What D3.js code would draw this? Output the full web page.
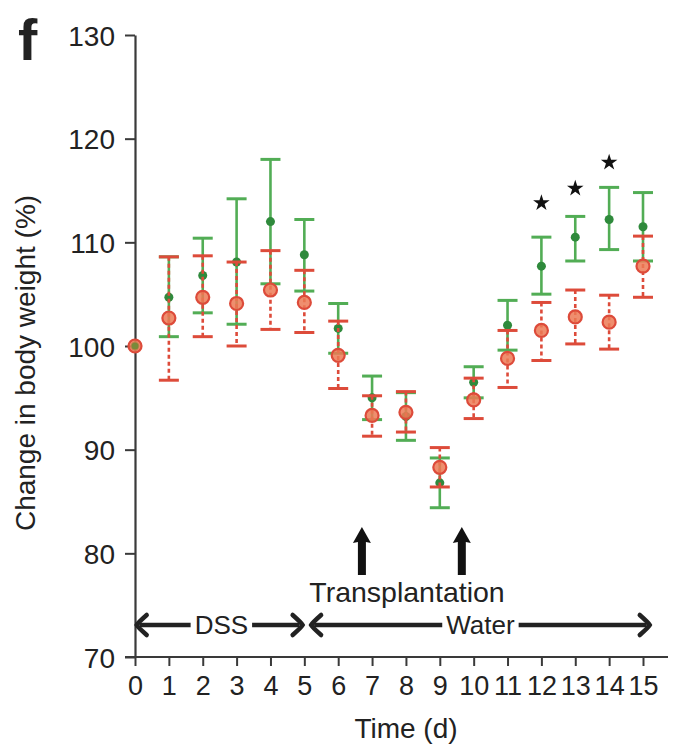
<!DOCTYPE html>
<html>
<head>
<meta charset="utf-8">
<script src="https://cdn.jsdelivr.net/npm/d3@7/dist/d3.min.js"></script>
<style>
  html, body { margin: 0; padding: 0; background: #fff; }
  svg { display: block; }
  text { font-family: "Liberation Sans", Arial, Helvetica, sans-serif; fill: #222; }
</style>
</head>
<body>
<svg id="chart" width="673" height="751"></svg>
<script>
// ---- data ----
const days = [0,1,2,3,4,5,6,7,8,9,10,11,12,13,14,15];
const xTicks = [0,1,2,3,4,5,6,7,8,9,10,11,12,13,14,15];
const yTicks = [70,80,90,100,110,120,130];

const greenMean  = [100,104.7,106.8,108.1,112.0,108.8,101.7,95.0,93.2,86.8,96.5,102.0,107.7,110.5,112.2,111.5];
const greenUpper = [null,108.6,110.4,114.2,118.0,112.2,104.1,97.1,95.5,89.2,98.0,104.4,110.5,112.5,115.3,114.8];
const greenLower = [null,100.9,103.2,102.1,106.0,105.3,99.3,92.9,90.9,84.4,95.0,99.6,105.0,108.2,109.3,108.2];

const redMean  = [100,102.7,104.7,104.1,105.4,104.2,99.1,93.3,93.6,88.3,94.8,98.8,101.5,102.8,102.3,107.7];
const redUpper = [null,108.6,108.7,108.1,109.2,107.3,102.4,95.2,95.6,90.2,96.9,101.5,104.2,105.4,104.9,110.6];
const redLower = [null,96.7,100.9,100.0,101.6,101.3,95.9,91.3,91.7,86.4,93.0,96.0,98.6,100.2,99.7,104.7];

const starDays = [12,13,14];
const starValues = [113.8,115.2,117.7];

const arrowDays = [6.7,9.65];
const periods = [
  {label:"DSS", start:0.05, end:4.95, textAt:2.55},
  {label:"Water", start:5.2, end:15.2, textAt:10.2}
];

// ---- layout ----
const svg = d3.select("#chart");
const x = d3.scaleLinear().domain([0,15]).range([135,643]);
const y = d3.scaleLinear().domain([70,130]).range([657,35]);

const axisColor = "#3a3a3a";
const green = "#52ad55", greenDark = "#2f8a3c";
const red = "#dd4b3a", redFill = "#ec7a55";

// y axis
const yAxis = svg.append("g").attr("transform","translate(135,0)")
  .call(d3.axisLeft(y).tickValues(yTicks).tickSize(10).tickPadding(10).tickSizeOuter(0));
yAxis.select(".domain").attr("stroke",axisColor).attr("stroke-width",2.2);
yAxis.selectAll(".tick line").attr("stroke",axisColor).attr("stroke-width",2);
yAxis.selectAll(".tick text").style("font-size","28px").style("font-family","Liberation Sans, Arial, sans-serif").attr("fill","#222").attr("dy","0.36em");

// x axis
const xAxis = svg.append("g").attr("transform","translate(0,657)")
  .call(d3.axisBottom(x).tickValues(xTicks).tickSize(9).tickPadding(10).tickSizeOuter(0));
xAxis.select(".domain").attr("d","M125,0H668").attr("stroke",axisColor).attr("stroke-width",2.2);
xAxis.selectAll(".tick line").attr("stroke",axisColor).attr("stroke-width",2);
xAxis.selectAll(".tick text").style("font-size","27px").style("font-family","Liberation Sans, Arial, sans-serif").attr("fill","#222");

// axis titles
svg.append("text").attr("transform","translate(35,363) rotate(-90)")
  .attr("text-anchor","middle").style("font-size","28px").text("Change in body weight (%)");
svg.append("text").attr("x",406).attr("y",738)
  .attr("text-anchor","middle").style("font-size","28px").text("Time (d)");

// panel letter
svg.append("text").attr("x",18).attr("y",60)
  .style("font-size","58px").style("font-weight","bold").attr("fill","#111").text("f");

// ---- error bars ----
const capW = 10;
function drawSeries(mean, up, lo, color, dashed, cls) {
  const g = svg.append("g").attr("class",cls);
  const idx = days.map((d,i)=>i).filter(i=>up[i]!==null);
  g.selectAll("line.v").data(idx).join("line").attr("class","v")
    .attr("x1",i=>x(days[i])).attr("x2",i=>x(days[i]))
    .attr("y1",i=>y(up[i])).attr("y2",i=>y(lo[i]))
    .attr("stroke",color).attr("stroke-width",2.6)
    .attr("stroke-dasharray",dashed?"4,3":null);
  g.selectAll("line.cu").data(idx).join("line").attr("class","cu")
    .attr("x1",i=>x(days[i])-capW).attr("x2",i=>x(days[i])+capW)
    .attr("y1",i=>y(up[i])).attr("y2",i=>y(up[i]))
    .attr("stroke",color).attr("stroke-width",3);
  g.selectAll("line.cl").data(idx).join("line").attr("class","cl")
    .attr("x1",i=>x(days[i])-capW).attr("x2",i=>x(days[i])+capW)
    .attr("y1",i=>y(lo[i])).attr("y2",i=>y(lo[i]))
    .attr("stroke",color).attr("stroke-width",3);
  return g;
}
const gG = drawSeries(greenMean, greenUpper, greenLower, green, false, "green");
gG.selectAll("circle").data(days).join("circle")
  .attr("cx",(d)=>x(d)).attr("cy",(d,i)=>y(greenMean[i])).attr("r",4.5)
  .attr("fill",greenDark);

const gR = drawSeries(redMean, redUpper, redLower, red, true, "red");
gR.selectAll("circle").data(days).join("circle")
  .attr("cx",(d)=>x(d)).attr("cy",(d,i)=>y(redMean[i])).attr("r",6.5)
  .attr("fill",redFill).attr("stroke",red).attr("stroke-width",2.2)
  .attr("fill-opacity",0.85);
// day 0 marker mixes both colours
svg.append("circle").attr("cx",x(0)).attr("cy",y(greenMean[0])).attr("r",3.5).attr("fill","#7a8a3a");

// stars
svg.selectAll("path.star").data(starDays).join("path").attr("class","star")
  .attr("transform",(d,i)=>`translate(${x(d)},${y(starValues[i])})`)
  .attr("d",d3.symbol().type(d3.symbolStar).size(85))
  .attr("fill","#111");

// upward arrows
const arrowTop = 527, arrowBot = 575;
svg.selectAll("path.up").data(arrowDays).join("path").attr("class","up")
  .attr("d",d=>{
    const cx = x(d);
    return `M${cx},${arrowTop} L${cx+9},${arrowTop+16} L${cx+4},${arrowTop+15} L${cx+4},${arrowBot} L${cx-4},${arrowBot} L${cx-4},${arrowTop+15} L${cx-9},${arrowTop+16} Z`;
  }).attr("fill","#111");

svg.append("text").attr("x",407).attr("y",602).attr("text-anchor","middle")
  .style("font-size","28.5px").text("Transplantation");

// period arrows
const py = 625;
periods.forEach(p=>{
  const x1 = x(p.start), x2 = x(p.end), xt = x(p.textAt);
  const t = svg.append("text").attr("x",xt).attr("y",py+9).attr("text-anchor","middle")
    .style("font-size","26px").text(p.label);
  const w = t.node().getComputedTextLength();
  const gap = 4;
  svg.append("line").attr("x1",x1+3).attr("x2",xt-w/2-gap).attr("y1",py).attr("y2",py)
    .attr("stroke","#222").attr("stroke-width",4.5);
  svg.append("line").attr("x1",xt+w/2+gap).attr("x2",x2-3).attr("y1",py).attr("y2",py)
    .attr("stroke","#222").attr("stroke-width",4.5);
  // curved heads
  svg.append("path").attr("d",`M${x1+10},${py-10} Q${x1+1},${py-2} ${x1},${py} Q${x1+1},${py+2} ${x1+10},${py+10}`)
    .attr("fill","none").attr("stroke","#222").attr("stroke-width",4.5).attr("stroke-linecap","round");
  svg.append("path").attr("d",`M${x2-10},${py-10} Q${x2-1},${py-2} ${x2},${py} Q${x2-1},${py+2} ${x2-10},${py+10}`)
    .attr("fill","none").attr("stroke","#222").attr("stroke-width",4.5).attr("stroke-linecap","round");
});
</script>
</body>
</html>
